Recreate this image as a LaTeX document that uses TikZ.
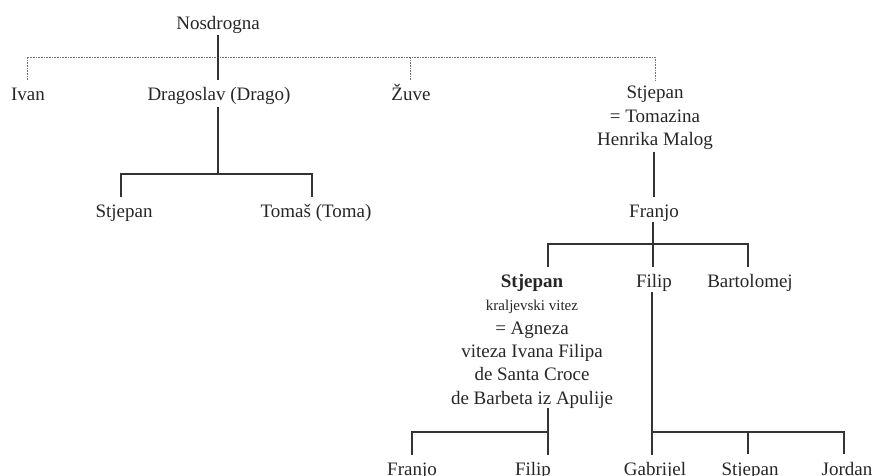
\documentclass[tikz,border=0pt]{standalone}
\usepackage{fontspec}
\setmainfont{Liberation Serif}
\begin{document}
\begin{tikzpicture}[x=1pt,y=-1pt,
  nm/.style={anchor=base,inner sep=0pt,font=\fontsize{19}{23.4}\selectfont,text=black!85},
  blk/.style={anchor=north,inner sep=0pt,align=center,font=\fontsize{19}{23.4}\selectfont,text=black!85},
  sl/.style={line width=1.7pt,draw=black!80},
  dot/.style={line width=0.9pt,draw=black!55,dash pattern=on 0.9pt off 0.7pt}]
\useasboundingbox (0,0) rectangle (872,475);
% nodes
\node[nm] (nos) at (218,29) {Nosdrogna};
\node[nm] (ivan) at (28,100) {Ivan};
\node[nm] (drago) at (219,100) {Dragoslav (Drago)};
\node[nm] (zuve) at (411,100) {Žuve};
\node[blk] (stjR) at (655,86) {Stjepan\\= Tomazina\\Henrika Malog};
\node[nm] (stjL) at (124,217) {Stjepan};
\node[nm] (toma) at (316,217) {Tomaš (Toma)};
\node[nm] (franjo) at (654,217) {Franjo};
\node[blk] (stjB) at (532,274) {\textbf{Stjepan}\\{\fontsize{15}{23.4}\selectfont kraljevski vitez}\\= Agneza\\viteza Ivana Filipa\\de Santa Croce\\de Barbeta iz Apulije};
\node[nm] (filip) at (654,287) {Filip};
\node[nm] (bart) at (750,287) {Bartolomej};
\node[nm] (franjo2) at (412,475) {Franjo};
\node[nm] (filip2) at (533,475) {Filip};
\node[nm] (gab) at (655,475) {Gabrijel};
\node[nm] (stj3) at (750,475) {Stjepan};
\node[nm] (jordan) at (847,475) {Jordan};
% junction coordinates
\coordinate (bar) at (0,57);
\coordinate (tIvan) at (27,80);
\coordinate (tZuve) at (410,80);
\coordinate (tStjR) at (655,80);
\coordinate (nosB) at (218,35);
\coordinate (tDrago) at (218,80);
\coordinate (bDrago) at (218,107);
\coordinate (j1) at (218,174);
\coordinate (tStjL) at (121,197);
\coordinate (tToma) at (312,197);
\coordinate (bStjR) at (654,152);
\coordinate (tFranjo) at (654,197);
\coordinate (bFranjo) at (653,222);
\coordinate (j2) at (653,244);
\coordinate (tFilip) at (653,267);
\coordinate (tStjB) at (548,267);
\coordinate (tBart) at (748,267);
\coordinate (bFilip) at (652,292);
\coordinate (j3) at (652,432);
\coordinate (tGab) at (652,455);
\coordinate (tStj3) at (748,454);
\coordinate (tJordan) at (844,454);
\coordinate (bStjB) at (548,408);
\coordinate (j4) at (548,432);
\coordinate (tFilip2) at (548,455);
\coordinate (tFranjo2) at (412,455);
% connectors
\draw[dot] (tIvan) -- (tIvan |- bar) -- (tStjR |- bar) -- (tStjR);
\draw[dot] (tZuve) -- (tZuve |- bar);
\draw[sl] (nosB) -- (tDrago);
\draw[sl] (bDrago) -- (j1);
\draw[sl] (tStjL) -- (tStjL |- j1) -- (tToma |- j1) -- (tToma);
\draw[sl] (bStjR) -- (tFranjo);
\draw[sl] (bFranjo) -- (tFilip);
\draw[sl] (tStjB) -- (tStjB |- j2) -- (tBart |- j2) -- (tBart);
\draw[sl] (bFilip) -- (tGab);
\draw[sl] (j3) -- (tJordan |- j3) -- (tJordan);
\draw[sl] (tStj3 |- j3) -- (tStj3);
\draw[sl] (bStjB) -- (tFilip2);
\draw[sl] (j4) -- (tFranjo2 |- j4) -- (tFranjo2);
\end{tikzpicture}
\end{document}
